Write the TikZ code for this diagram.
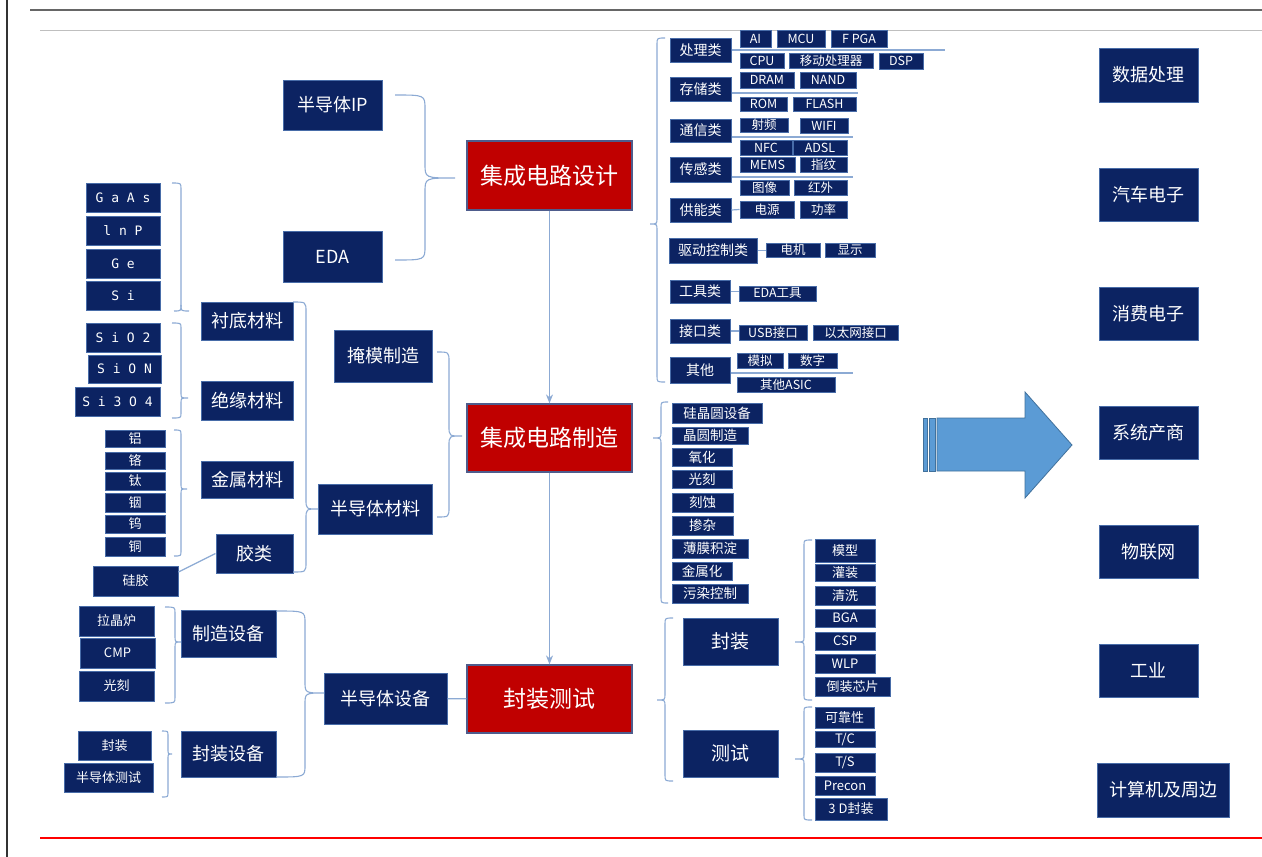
\documentclass[tikz,border=0pt]{standalone}
\usepackage{fontspec}
\setmainfont{Noto Sans CJK SC}
\newfontfamily\monofam{DejaVu Sans Mono}
\usetikzlibrary{arrows.meta}

\definecolor{navy}{RGB}{12,35,98}
\definecolor{boxedge}{RGB}{72,108,168}
\definecolor{redfill}{RGB}{192,0,0}
\definecolor{rededge}{RGB}{78,92,140}
\definecolor{bline}{RGB}{140,170,212}
\definecolor{arrowfill}{RGB}{91,155,213}
\definecolor{arrowedge}{RGB}{65,113,156}

% box given by its corners (x1,y1)-(x2,y2)
\newcommand\bx[7][]{\node[box,#1,minimum width={#5-#3},minimum height={#6-#4}] (#2) at ({(#3+#5)/2},{(#4+#6)/2}) {#7};}
% curly bracket: arm start x, spine x, top y, tip y, bottom y, tip x, curl
\newcommand\brc[7]{\draw[brace] (#1,#3) .. controls (#2,#3) .. (#2,#3+#7) -- (#2,#4-#7) .. controls (#2,#4) .. (#6,#4) .. controls (#2,#4) .. (#2,#4+#7) -- (#2,#5-#7) .. controls (#2,#5) .. (#1,#5);}

\tikzset{
  box/.style={draw=boxedge, fill=navy, text=white, line width=1pt, inner sep=0pt, font=\fontsize{13}{15}\selectfont},
  redb/.style={box, fill=redfill, draw=rededge, line width=1.2pt, font=\fontsize{23}{26}\selectfont},
  fmid/.style={font=\fontsize{18}{21}\selectfont},
  fpk/.style={font=\fontsize{19}{22}\selectfont},
  fcat/.style={font=\fontsize{14}{16}\selectfont},
  ftag/.style={font=\fontsize{12.5}{14}\selectfont},
  fstep/.style={font=\fontsize{13.5}{15}\selectfont},
  fmono/.style={font=\monofam\fontsize{13}{15}\selectfont},
  brace/.style={draw=bline, line width=1.1pt},
  link/.style={draw=bline, line width=1.2pt},
  flow/.style={link, -{Stealth[length=9pt,width=7pt]}},
}

\begin{document}
\begin{tikzpicture}[x=1pt,y=-1pt]
\useasboundingbox (0,0) rectangle (1262,857);
\fill[white] (0,0) rectangle (1262,857);

% page frame lines
\draw[line width=1.5pt, black!80] (7,0) -- (7,857);
\draw[line width=2pt, black!60] (30,10) -- (1262,10);
\draw[line width=1pt, black!25] (40,30) -- (1262,30);
\draw[line width=1.2pt, red] (40,838) -- (1262,838);

% main chain
\bx[redb]{design}{467}{141}{632}{210}{集成电路设计}
\bx[redb]{fab}{467}{404}{632}{472}{集成电路制造}
\bx[redb]{pkgtest}{467}{665}{632}{733}{封装测试}
\draw[flow] (design) -- (fab);
\draw[flow] (fab) -- (pkgtest);

% design inputs
\bx[fmid]{ip}{283}{80}{382}{130}{半导体IP}
\bx[fmid]{eda}{283}{231}{382}{282}{EDA}
\brc{395}{425}{95}{178}{260}{455}{14}

% materials
\bx[fmono]{gaas}{86}{183}{160}{212}{G a A s}
\bx[fmono]{inp}{86}{216}{160}{245}{l n P}
\bx[fmono]{ge}{86}{249}{160}{278}{G e}
\bx[fmono]{si}{86}{281}{160}{310}{S i}
\bx[fmono]{sio2}{86}{323}{160}{352}{S i O 2}
\bx[fmono]{sion}{88}{355}{161}{383}{S i O N}
\bx[fmono]{si3o4}{75}{387}{160}{416}{S i 3 O 4}
\bx{al}{105}{430}{165}{447}{铝}
\bx{cr}{105}{452}{165}{469}{铬}
\bx{ti}{105}{472}{165}{490}{钛}
\bx{in}{105}{493}{165}{512}{铟}
\bx{w}{105}{515}{165}{533}{钨}
\bx{cu}{105}{537}{165}{556}{铜}
\bx{silica}{93}{566}{178}{596}{硅胶}
\bx[fmid]{sub}{201}{302}{293}{340}{衬底材料}
\bx[fmid]{ins}{201}{381}{293}{420}{绝缘材料}
\bx[fmid]{met}{201}{461}{293}{498}{金属材料}
\bx[fmid]{glue}{216}{534}{293}{573}{胶类}
\draw[brace] (172,183) .. controls (181,183) .. (181,189) -- (181,305) .. controls (181,311) .. (189,311);
\draw[brace] (181,305) .. controls (181,311) .. (174,311);
\brc{172}{181}{323}{398}{418}{188}{5}
\brc{174}{181}{430}{489}{556}{187}{5}
\draw[link] ([yshift=9pt]silica.east) -- (glue.west);
\bx[fmid]{mask}{334}{330}{432}{382}{掩模制造}
\bx[fmid]{semimat}{318}{484}{432}{534}{半导体材料}
\brc{293}{306}{302}{509}{572}{318}{10}
\brc{437}{449}{352}{436}{517}{462}{10}

% equipment
\bx{puller}{79}{606}{154}{636}{拉晶炉}
\bx{cmp}{80}{638}{155}{668}{CMP}
\bx{litho}{79}{671}{154}{701}{光刻}
\bx{pkgeqa}{78}{731}{151}{760}{封装}
\bx{tester}{64}{763}{153}{792}{半导体测试}
\bx[fmid]{mfgeq}{181}{610}{276}{657}{制造设备}
\bx[fmid]{pkgeq}{181}{731}{276}{777}{封装设备}
\bx[fmid]{semieq}{324}{673}{447}{724}{半导体设备}
\brc{165}{175}{607}{642}{703}{181}{6}
\brc{162}{168}{731}{754}{797}{172}{5}
\brc{276}{305}{611}{693}{777}{324}{12}
\draw[link] (semieq) -- (pkgtest);

% design categories
\bx[fcat]{c1}{670}{38}{731}{62}{处理类}
\bx[fcat]{c2}{670}{77}{731}{101}{存储类}
\bx[fcat]{c3}{670}{119}{731}{142}{通信类}
\bx[fcat]{c4}{670}{157}{731}{182}{传感类}
\bx[fcat]{c5}{670}{198}{731}{222}{供能类}
\bx[fcat]{c6}{669}{238}{757}{263}{驱动控制类}
\bx[fcat]{c7}{670}{280}{730}{303}{工具类}
\bx[fcat]{c8}{670}{319}{730}{343}{接口类}
\bx[fcat]{c9}{670}{357}{730}{383}{其他}
\brc{665}{657}{38}{224}{382}{650}{6}

\bx[ftag]{ai}{740}{30}{771}{47}{AI}
\bx[ftag]{mcu}{777}{30}{825}{47}{MCU}
\bx[ftag]{fpga}{831}{30}{887}{47}{F PGA}
\bx[ftag]{cpu}{740}{53}{784}{68}{CPU}
\bx[ftag]{mproc}{789}{53}{873}{68}{移动处理器}
\bx[ftag]{dsp}{879}{53}{923}{69}{DSP}
\bx[ftag]{dram}{740}{72}{794}{88}{DRAM}
\bx[ftag]{nand}{800}{72}{856}{88}{NAND}
\bx[ftag]{rom}{740}{97}{787}{111}{ROM}
\bx[ftag]{flash}{793}{97}{856}{111}{FLASH}
\bx[ftag]{rf}{740}{118}{788}{132}{射频}
\bx[ftag]{wifi}{800}{118}{848}{133}{WIFI}
\bx[ftag]{nfc}{740}{140}{792}{155}{NFC}
\bx[ftag]{adsl}{793}{140}{847}{155}{ADSL}
\bx[ftag]{mems}{740}{157}{795}{172}{MEMS}
\bx[ftag]{fingerprint}{800}{157}{847}{172}{指纹}
\bx[ftag]{image}{740}{180}{789}{195}{图像}
\bx[ftag]{infrared}{794}{180}{847}{195}{红外}
\bx[ftag]{supply}{740}{201}{794}{218}{电源}
\bx[ftag]{power}{800}{201}{847}{218}{功率}
\bx[ftag]{motor}{766}{243}{820}{257}{电机}
\bx[ftag]{display}{825}{243}{875}{257}{显示}
\bx[ftag]{edatool}{739}{286}{816}{301}{EDA工具}
\bx[ftag]{usb}{739}{325}{807}{340}{USB接口}
\bx[ftag]{eth}{813}{325}{898}{340}{以太网接口}
\bx[ftag]{analog}{737}{353}{783}{368}{模拟}
\bx[ftag]{digital}{788}{353}{837}{368}{数字}
\bx[ftag]{asic}{737}{377}{835}{392}{其他ASIC}

\coordinate (e1) at (945,50);
\coordinate (e2) at (858,93);
\coordinate (e3) at (853,137);
\coordinate (e4) at (853,177);
\coordinate (e9) at (853,373);
\draw[link] (c1.east) -- (e1);
\draw[link] (c2.east |- e2) -- (e2);
\draw[link] (c3.east |- e3) -- (e3);
\draw[link] (c4.east |- e4) -- (e4);
\draw[link] (c5.east) -- (supply.west);
\draw[link] (c6.east) -- (c6.east -| motor.west);
\draw[link] (c7.east) -- (c7.east -| edatool.west);
\draw[link] (c8.east) -- (c8.east -| usb.west);
\draw[link] (c9.east |- e9) -- (e9);

% manufacturing steps
\bx[fstep]{m1}{672}{403}{762}{423}{硅晶圆设备}
\bx[fstep]{m2}{672}{427}{748}{444}{晶圆制造}
\bx[fstep]{m3}{672}{448}{732}{466}{氧化}
\bx[fstep]{m4}{672}{470}{732}{488}{光刻}
\bx[fstep]{m5}{672}{493}{733}{512}{刻蚀}
\bx[fstep]{m6}{672}{516}{733}{535}{掺杂}
\bx[fstep]{m7}{672}{539}{748}{558}{薄膜积淀}
\bx[fstep]{m8}{672}{562}{732}{580}{金属化}
\bx[fstep]{m9}{672}{584}{748}{603}{污染控制}
\brc{668}{661}{402}{438}{603}{653}{6}

% packaging and test
\bx[fpk]{pk}{683}{618}{778}{665}{封装}
\bx[fpk]{ts}{683}{730}{778}{777}{测试}
\brc{673}{665}{618}{700}{781}{657}{6}
\bx{p1}{815}{539}{875}{562}{模型}
\bx{p2}{815}{564}{875}{581}{灌装}
\bx{p3}{815}{586}{875}{605}{清洗}
\bx{p4}{815}{609}{875}{627}{BGA}
\bx{p5}{815}{632}{875}{650}{CSP}
\bx{p6}{815}{654}{875}{673}{WLP}
\bx{p7}{815}{677}{890}{696}{倒装芯片}
\brc{812}{804}{540}{642}{700}{795}{5}
\bx{t1}{815}{707}{874}{728}{可靠性}
\bx{t2}{815}{731}{875}{747}{T/C}
\bx{t3}{815}{753}{875}{772}{T/S}
\bx{t4}{815}{776}{875}{795}{Precon}
\bx{t5}{815}{798}{887}{820}{3 D封装}
\brc{812}{804}{707}{759}{820}{795}{5}

% block arrow
\begin{scope}[fill=arrowfill, draw=arrowedge, line width=0.8pt]
\filldraw (923,418) rectangle (927,471);
\filldraw (929,418) rectangle (935,471);
\filldraw (937,418) -- (1025,418) -- (1025,392) -- (1072,445) -- (1025,498) -- (1025,471) -- (937,471) -- cycle;
\end{scope}

% applications
\bx[fmid]{a1}{1099}{48}{1198}{102}{数据处理}
\bx[fmid]{a2}{1099}{168}{1198}{221}{汽车电子}
\bx[fmid]{a3}{1099}{287}{1198}{340}{消费电子}
\bx[fmid]{a4}{1099}{406}{1198}{459}{系统产商}
\bx[fmid]{a5}{1099}{525}{1198}{578}{物联网}
\bx[fmid]{a6}{1099}{644}{1198}{697}{工业}
\bx[fmid]{a7}{1097}{763}{1229}{817}{计算机及周边}
\end{tikzpicture}
\end{document}
